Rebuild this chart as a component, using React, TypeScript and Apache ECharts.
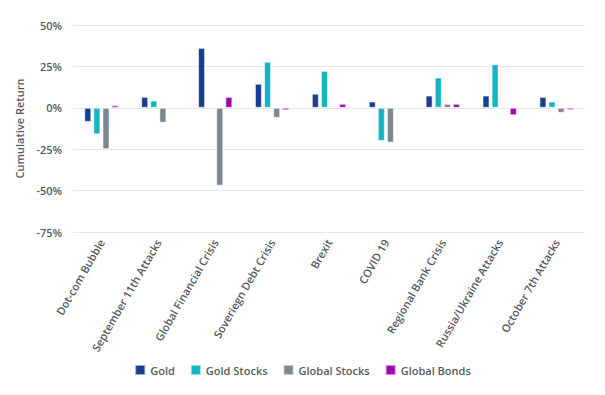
import React, { useEffect, useRef } from "react";
import * as echarts from "echarts";

const categories = [
  "Dot-com Bubble",
  "September 11th Attacks",
  "Global Financial Crisis",
  "Soveriegn Debt Crisis",
  "Brexit",
  "COVID 19",
  "Regional Bank Crisis",
  "Russia/Ukraine Attacks",
  "October 7th Attacks",
];

const gold = [-8.5, 6.6, 36.2, 14.5, 8.5, 3.8, 7.4, 7.4, 6.6];
const goldStocks = [-16, 4.4, 0.6, 27.8, 22.3, -20, 18.3, 26.3, 3.8];
const globalStocks = [-25, -9, -47, -6, -1, -21, 2.4, 0, -3];
const globalBonds = [1.5, 0.6, 6.6, -1.5, 2.4, 0, 2.4, -4.5, -1.4];

const yTicks = [-75, -50, -25, 0, 25, 50];

const seriesDefs = [
  { name: "Gold", data: gold, color: "#173f8f" },
  { name: "Gold Stocks", data: goldStocks, color: "#14b4c0" },
  { name: "Global Stocks", data: globalStocks, color: "#7e878e" },
  { name: "Global Bonds", data: globalBonds, color: "#a000b6" },
];

const FONT = "'Open Sans', sans-serif";
const TEXT = "#555a5f";

export default function App() {
  const ref = useRef<HTMLDivElement>(null);
  useEffect(() => {
    if (!ref.current) return;
    const chart = echarts.init(ref.current, undefined, { renderer: "svg" });
    chart.setOption({
      animation: false,
      backgroundColor: "#ffffff",
      grid: { left: 73, right: 20, top: 25, bottom: 163 },
      legend: {
        bottom: 14,
        left: "center",
        itemWidth: 10,
        itemHeight: 10,
        itemGap: 15,
        icon: "rect",
        textStyle: { fontFamily: FONT, fontSize: 11, fontWeight: 600, color: TEXT },
        data: seriesDefs.map((s) => s.name),
      },
      xAxis: {
        type: "category",
        data: categories,
        axisLine: { show: false },
        axisTick: { show: false },
        axisLabel: {
          rotate: 60,
          interval: 0,
          margin: 8,
          fontFamily: FONT,
          fontSize: 11,
          fontWeight: 600,
          color: TEXT,
        },
      },
      yAxis: {
        type: "value",
        min: yTicks[0],
        max: yTicks[yTicks.length - 1],
        interval: 25,
        name: "Cumulative Return",
        nameLocation: "middle",
        nameGap: 46,
        nameTextStyle: { fontFamily: FONT, fontSize: 11, fontWeight: 600, color: TEXT },
        axisLabel: {
          formatter: (v: number) => `${v}%`,
          fontFamily: FONT,
          fontSize: 11,
          fontWeight: 600,
          color: TEXT,
          margin: 11,
        },
        splitLine: { lineStyle: { color: "#e8e8e8", width: 1 } },
        axisLine: { show: false },
        axisTick: { show: false },
      },
      series: seriesDefs.map((s) => ({
        name: s.name,
        type: "bar",
        data: s.data.map((v) => (v === 0 ? null : v)),
        barWidth: 7,
        barGap: "30%",
        itemStyle: {
          color: s.color,
          borderColor: "rgba(255,255,255,0.55)",
          borderWidth: 1,
        },
      })),
    });
    return () => chart.dispose();
  }, []);
  return (
    <div
      ref={ref}
      style={{ position: "fixed", left: 0, top: 0, width: 605, height: 395 }}
    />
  );
}
